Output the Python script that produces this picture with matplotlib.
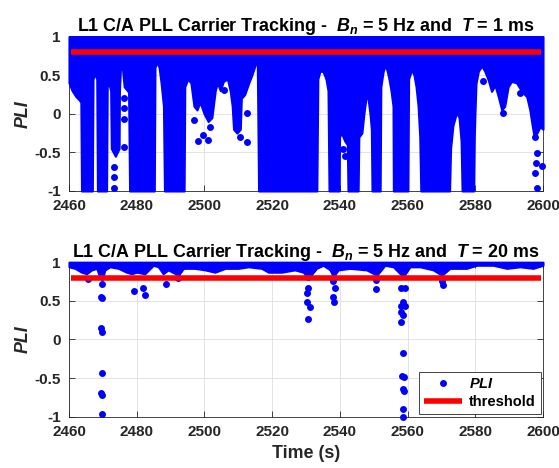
import matplotlib

matplotlib.use("Agg")
import matplotlib.pyplot as plt  # noqa: E402
from matplotlib.lines import Line2D  # noqa: E402

# ---- T = 1 ms: lower edge of the dense PLI cloud (cloud fills up to 1) ----
env1_t = [2460.0, 2460.9, 2462.1, 2463.0, 2463.5, 2463.7, 2466.9, 2467.1, 2467.7, 2468.2,
          2468.4, 2471.1, 2471.3, 2471.8, 2472.3, 2472.5, 2473.7, 2474.8, 2474.9, 2475.2,
          2475.8, 2476.3, 2477.6, 2477.9, 2485.2, 2485.4, 2486.0, 2486.6, 2487.2, 2487.9,
          2488.2, 2494.0, 2494.2, 2495.1, 2496.0, 2496.9, 2497.8, 2498.7, 2499.9, 2501.1,
          2502.2, 2503.2, 2503.8, 2504.7, 2505.6, 2506.8, 2507.6, 2508.2, 2508.6, 2509.6,
          2510.6, 2510.9, 2511.9, 2513.1, 2514.0, 2514.9, 2515.6, 2516.0, 2533.2, 2533.5,
          2534.1, 2535.0, 2535.9, 2536.5, 2536.8, 2539.8, 2539.9, 2540.5, 2541.4, 2542.2,
          2542.4, 2545.4, 2545.6, 2546.5, 2547.1, 2547.7, 2548.3, 2548.9, 2549.3, 2549.5,
          2551.9, 2552.1, 2552.8, 2553.4, 2554.0, 2554.5, 2555.1, 2555.7, 2555.8, 2560.1,
          2560.3, 2561.2, 2561.9, 2562.5, 2563.1, 2563.6, 2563.9, 2572.4, 2572.7, 2573.4,
          2574.5, 2575.2, 2575.8, 2576.1, 2579.5, 2579.7, 2579.9, 2580.2, 2580.9, 2581.9,
          2582.8, 2583.8, 2584.8, 2585.8, 2586.8, 2587.8, 2588.7, 2589.7, 2590.7, 2592.2,
          2593.7, 2595.2, 2596.1, 2596.8, 2597.4, 2598.2, 2599.1, 2600.0]
env1_low = [0.40, 0.30, 0.22, 0.18, 0.15, -1, -1, 0.45, 0.52, 0.45,
            -1, -1, 0.35, 0.39, 0.30, -0.45, -0.55, -0.45, 0.30, 0.58,
            0.58, 0.35, 0.28, -1, -1, 0.60, 0.67, 0.60, 0.40, 0.10,
            -1, -1, 0.35, 0.45, 0.40, 0.10, 0.05, 0.15, 0.00, -0.10,
            -0.05, 0.30, 0.40, 0.30, 0.42, 0.45, 0.30, 0.10, -0.20, -0.25,
            -0.20, 0.20, 0.25, 0.40, 0.50, 0.62, 0.72, -1, -1, 0.45,
            0.55, 0.55, 0.45, 0.30, -1, -1, -0.30, -0.25, -0.35, -0.40,
            -1, -1, -0.30, -0.25, 0.00, 0.20, 0.20, 0.00, -0.20, -1,
            -1, 0.35, 0.55, 0.63, 0.55, 0.45, 0.30, 0.10, -1, -1,
            0.45, 0.57, 0.50, 0.35, 0.10, -0.30, -1, -1, -0.45, -0.15,
            0.02, -0.05, -0.35, -1, -1, -0.30, 0.00, 0.39, 0.55, 0.62,
            0.55, 0.44, 0.29, 0.37, 0.22, 0.05, 0.10, 0.35, 0.42, 0.40,
            0.29, 0.22, 0.05, -0.15, -0.30, -0.25, -0.17, -0.20]

# isolated PLI samples below the cloud (T = 1 ms)
dots1_t = [2473.3, 2473.3, 2473.3, 2476.3, 2476.3, 2476.3, 2476.3, 2497.0, 2499.7, 2498.0,
           2501.6, 2501.1, 2505.9, 2510.5, 2512.5, 2512.5, 2540.8, 2541.6, 2582.4, 2593.2,
           2588.3, 2597.6, 2598.1, 2597.9, 2597.6, 2598.1, 2599.6]
dots1_v = [-0.69, -0.82, -0.96, 0.20, 0.07, -0.07, -0.43, -0.08, -0.27, -0.35,
           -0.17, -0.34, 0.31, -0.30, 0.01, -0.36, -0.45, -0.55, 0.42, 0.27,
           0.01, -0.30, -0.51, -0.64, -0.77, -0.96, -0.68]

# ---- T = 20 ms: lower edge of the dense PLI band ----
env2_t = [2460.0, 2461.8, 2463.7, 2465.2, 2466.7, 2468.2, 2469.2, 2469.8, 2470.6, 2472.1,
          2474.6, 2477.0, 2478.5, 2480.0, 2482.4, 2484.9, 2486.4, 2487.8, 2489.3, 2492.3,
          2493.8, 2497.2, 2500.2, 2503.1, 2506.1, 2510.0, 2513.0, 2516.9, 2518.9, 2522.8,
          2526.7, 2529.2, 2530.7, 2533.1, 2535.1, 2537.1, 2538.1, 2539.5, 2543.0, 2547.9,
          2550.9, 2553.3, 2555.8, 2557.8, 2558.7, 2560.7, 2563.7, 2567.6, 2570.1, 2572.5,
          2577.4, 2580.4, 2585.3, 2589.3, 2593.2, 2597.1, 2600.0]
env2_low = [0.94, 0.92, 0.87, 0.85, 0.90, 0.92, 0.79, 0.77, 0.90, 0.94,
            0.92, 0.87, 0.85, 0.87, 0.85, 0.96, 0.94, 0.85, 0.90, 0.83,
            0.92, 0.92, 0.90, 0.87, 0.92, 0.92, 0.94, 0.92, 0.87, 0.87,
            0.90, 0.87, 0.79, 0.92, 0.96, 0.90, 0.81, 0.90, 0.92, 0.90,
            0.83, 0.96, 0.94, 0.85, 0.81, 0.94, 0.94, 0.90, 0.83, 0.92,
            0.92, 0.96, 0.96, 0.92, 0.94, 0.92, 0.96]

dots2_t = [2465.5, 2469.7, 2469.5, 2469.7, 2469.5, 2469.7, 2469.7, 2469.5, 2469.7, 2469.7,
           2479.3, 2481.9, 2482.4, 2488.6, 2492.3,
           2530.6, 2530.6, 2530.2, 2530.2, 2531.2, 2530.6,
           2538.1, 2538.6, 2538.1, 2538.3, 2550.7, 2550.7,
           2558.2, 2559.2, 2558.7, 2559.2, 2558.2, 2558.2, 2558.7, 2558.2, 2558.7, 2558.5,
           2558.9, 2558.7, 2558.9, 2558.7, 2558.7, 2570.3, 2570.6]
dots2_v = [0.78, 0.72, 0.55, 0.54, 0.15, 0.10, -0.43, -0.69, -0.72, -0.96,
           0.63, 0.67, 0.57, 0.72, 0.80,
           0.81, 0.66, 0.60, 0.49, 0.42, 0.27,
           0.75, 0.66, 0.55, 0.48, 0.77, 0.65,
           0.66, 0.66, 0.49, 0.43, 0.43, 0.36, 0.31, 0.23, -0.18, -0.47,
           -0.49, -0.64, -0.67, -0.90, -1.00, 0.75, 0.71]

threshold_t = [2460.6, 2599.4]
threshold_v = [0.8, 0.8]

x_ticks = [2460, 2480, 2500, 2520, 2540, 2560, 2580, 2600]
y_ticks = [-1, -0.5, 0, 0.5, 1]
y_ticklabels = ["-1", "-0.5", "0", "0.5", "1"]

BLUE = "#0000ff"
RED = "#ff0000"

plt.rcParams.update({
    "font.family": "Liberation Sans",
    "font.weight": "bold",
    "mathtext.fontset": "custom",
    "mathtext.rm": "Liberation Sans:bold",
    "mathtext.it": "Liberation Sans:italic:bold",
    "mathtext.bf": "Liberation Sans:bold",
})

fig = plt.figure(figsize=(5.59, 4.68), dpi=100)
ax1 = fig.add_axes([0.1234, 0.5919, 0.848, 0.330])
ax2 = fig.add_axes([0.1234, 0.1098, 0.848, 0.330])

panels = [
    (ax1, env1_t, env1_low, dots1_t, dots1_v, "1 ms"),
    (ax2, env2_t, env2_low, dots2_t, dots2_v, "20 ms"),
]
for ax, et, el, dt, dv, tint in panels:
    ax.fill_between(et, el, 1.0, facecolor=BLUE, edgecolor=BLUE, linewidth=1.5,
                    joinstyle="round", clip_on=False, zorder=3)
    ax.plot(dt, dv, "o", color=BLUE, ms=5, mew=0, clip_on=False, zorder=3)
    ax.plot(threshold_t, threshold_v, color=RED, lw=4, solid_capstyle="butt", zorder=4)

    ax.set_xlim(2460, 2600)
    ax.set_ylim(-1, 1)
    ax.set_xticks(x_ticks)
    ax.set_yticks(y_ticks)
    ax.set_yticklabels(y_ticklabels)
    ax.tick_params(direction="in", length=4, width=0.6, colors="0.15",
                   labelsize=11, top=True, right=True)
    ax.tick_params(axis="x", pad=6)
    ax.tick_params(axis="y", pad=6)
    for lbl in ax.get_xticklabels() + ax.get_yticklabels():
        lbl.set_color("0.15")
    ax.grid(True, color="0.87", lw=0.6)
    ax.set_axisbelow(True)
    for sp in ax.spines.values():
        sp.set_color("0.15")
        sp.set_linewidth(0.6)
    ax.set_ylabel("PLI", fontsize=12.9, fontstyle="italic", fontweight="bold",
                  color="0.15", labelpad=2)
    ax.set_title(f"L1 C/A PLL Carrier Tracking -  $B_n$ = 5 Hz and  $T$ = {tint}",
                 fontsize=12.9, fontweight="bold", color="0.0", pad=4)

ax2.set_xlabel("Time (s)", fontsize=12.9, fontweight="bold", color="0.15", labelpad=4)

handles = [
    Line2D([], [], ls="none", marker="o", ms=5, mew=0, color=BLUE),
    Line2D([], [], color=RED, lw=4, solid_capstyle="butt"),
]
leg = ax2.legend(handles, ["$PLI$", "threshold"], loc="lower right", fontsize=10.5,
                 fancybox=False, edgecolor="0.15", framealpha=1, borderaxespad=0.15,
                 handlelength=2.6, handletextpad=0.5, borderpad=0.35, labelspacing=0.3)
leg.get_frame().set_linewidth(0.6)
leg.set_zorder(6)

fig.savefig("out.png", dpi=100)
